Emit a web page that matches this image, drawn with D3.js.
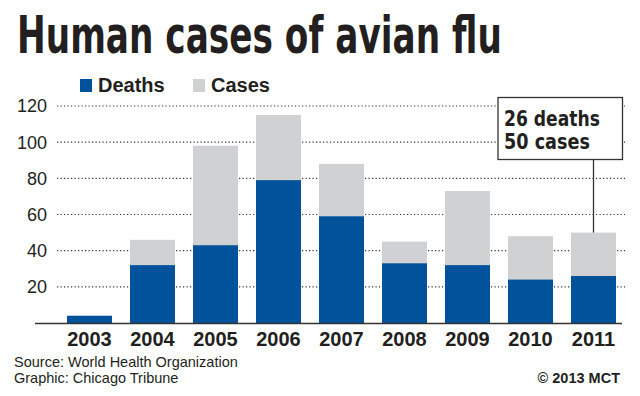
<!DOCTYPE html>
<html>
<head>
<meta charset="utf-8">
<script src="https://cdn.jsdelivr.net/npm/d3@7"></script>
<style>
html,body{margin:0;padding:0;background:#fff;}
svg{display:block;font-family:"Liberation Sans",Arial,Helvetica,sans-serif;}
</style>
</head>
<body>
<div id="chart"></div>
<script>
(function(){
'use strict';

const years=['2003','2004','2005','2006','2007','2008','2009','2010','2011'];
const deaths=[4,32,43,79,59,33,32,24,26];
const cases=[4,46,98,115,88,45,73,48,50];
const yTicks=[20,40,60,80,100,120];

const BLUE='#00529b',GRAY='#d0d1d3',INK='#231f20';
const CONDENSED='"Liberation Sans Narrow","DejaVu Sans Condensed",sans-serif';
const W=640,H=396;
const m={top:106,bottom:323,left:58,right:625};

const svg=d3.select('#chart').append('svg').attr('width',W).attr('height',H);

// squeeze a text horizontally to a target width, anchored at its left edge
function fitWidth(sel,x0,baseY,target){
  const len=sel.node().getComputedTextLength();
  sel.attr('transform',`translate(${x0},${baseY}) scale(${target/len},1)`);
}

// Title
const title=svg.append('text').attr('x',0).attr('y',0)
  .style('font-family',CONDENSED)
  .style('font-weight','bold').style('font-size','51px').attr('fill',INK)
  .text('Human cases of avian flu');
fitWidth(title,17,53,485);

// Legend
const legend=[{label:'Deaths',color:BLUE,x:80},{label:'Cases',color:GRAY,x:193}];
legend.forEach(d=>{
  svg.append('rect').attr('x',d.x).attr('y',79).attr('width',12).attr('height',13).attr('fill',d.color);
  svg.append('text').attr('x',d.x+18).attr('y',92).attr('fill',INK)
    .style('font-weight','bold').style('font-size','20px').text(d.label);
});

const x=d3.scaleBand().domain(years).range([m.left,m.right]).paddingInner(0.286).paddingOuter(0.143);
const y=d3.scaleLinear().domain([0,120]).range([m.bottom,m.top]);

// Dotted gridlines
svg.append('g').selectAll('line').data(yTicks).enter().append('line')
  .attr('x1',57).attr('x2',625).attr('y1',d=>y(d)).attr('y2',d=>y(d))
  .attr('stroke','#333').attr('stroke-width',1.2).attr('stroke-dasharray','1.2,2.3');

// Y labels
svg.append('g').selectAll('text').data(yTicks).enter().append('text')
  .attr('x',47).attr('y',d=>y(d)).attr('dy','0.36em').attr('text-anchor','end')
  .attr('fill',INK).style('font-size','18px').text(d=>d);

// Bars: cases behind, deaths in front
const bars=svg.append('g');
bars.selectAll('.case').data(years).enter().append('rect')
  .attr('x',d=>x(d)).attr('width',x.bandwidth())
  .attr('y',(d,i)=>y(cases[i])).attr('height',(d,i)=>y(0)-y(cases[i]))
  .attr('fill',GRAY);
bars.selectAll('.death').data(years).enter().append('rect')
  .attr('x',d=>x(d)).attr('width',x.bandwidth())
  .attr('y',(d,i)=>y(deaths[i])).attr('height',(d,i)=>y(0)-y(deaths[i]))
  .attr('fill',BLUE);

// Baseline + x axis labels
svg.append('line').attr('x1',35).attr('x2',622).attr('y1',y(0)+0.5).attr('y2',y(0)+0.5)
  .attr('stroke','#333').attr('stroke-width',1.5);
svg.append('g').selectAll('text').data(years).enter().append('text')
  .attr('x',d=>x(d)+x.bandwidth()/2).attr('y',346).attr('text-anchor','middle')
  .attr('fill',INK).style('font-weight','bold').style('font-size','20px').text(d=>d);

// Callout for 2011
const last=years.length-1;
const cx=x(years[last])+x.bandwidth()/2;
svg.append('line').attr('x1',cx).attr('x2',cx).attr('y1',159).attr('y2',y(cases[last]))
  .attr('stroke','#333').attr('stroke-width',1.3);
svg.append('rect').attr('x',498).attr('y',97.5).attr('width',124.5).attr('height',62)
  .attr('fill','#fff').attr('stroke','#333').attr('stroke-width',1.3);
const noteStyle=t=>t.attr('fill',INK).attr('x',0).attr('y',0)
  .style('font-family',CONDENSED).style('font-weight','bold').style('font-size','22px');
const n1=svg.append('text').call(noteStyle).text(`${deaths[last]} deaths`);
fitWidth(n1,504,126,96);
const n2=svg.append('text').call(noteStyle).text(`${cases[last]} cases`);
fitWidth(n2,504,149,86);

// Footer
svg.append('text').attr('x',14).attr('y',367).attr('fill',INK).style('font-size','14.5px')
  .text('Source: World Health Organization');
svg.append('text').attr('x',14).attr('y',383).attr('fill',INK).style('font-size','14.5px')
  .text('Graphic: Chicago Tribune');
svg.append('text').attr('x',620).attr('y',383).attr('text-anchor','end').attr('fill',INK)
  .style('font-weight','bold').style('font-size','14.5px').text('\u00a9 2013 MCT');

})();
</script>
</body>
</html>
